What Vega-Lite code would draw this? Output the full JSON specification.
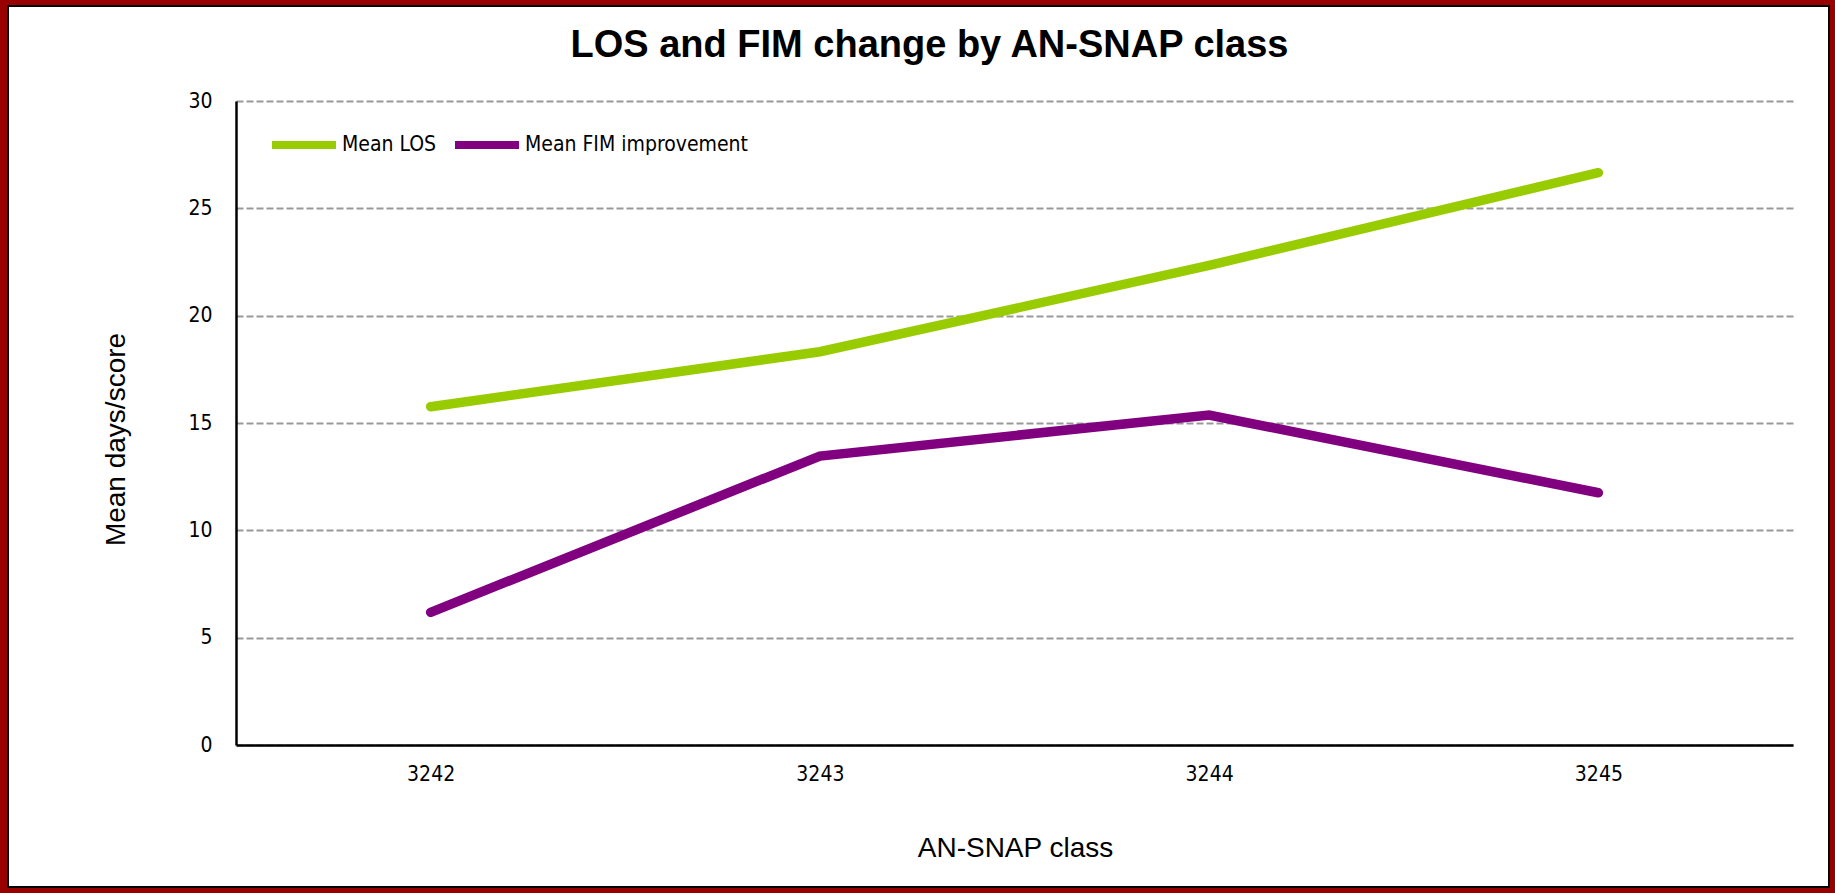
{
  "$schema": "https://vega.github.io/schema/vega-lite/v6.json",
  "autosize": {"type": "none"},
  "width": 1821,
  "height": 881,
  "padding": {"left": 8, "top": 6, "right": 6, "bottom": 6},
  "background": "#990000",
  "config": {
    "view": {"fill": "white", "stroke": "black", "strokeWidth": 2},
    "font": "DejaVu Sans Condensed, Liberation Sans"
  },
  "title": {
    "text": "LOS and FIM change by AN-SNAP class",
    "font": "Liberation Sans",
    "fontSize": 38,
    "fontWeight": "bold",
    "color": "black",
    "anchor": "middle",
    "frame": "group",
    "baseline": "alphabetic",
    "offset": -89,
    "dx": 11
  },
  "data": {
    "values": [
      {"class": "3242", "series": "Mean LOS", "value": 15.76},
      {"class": "3243", "series": "Mean LOS", "value": 18.32},
      {"class": "3244", "series": "Mean LOS", "value": 22.34},
      {"class": "3245", "series": "Mean LOS", "value": 26.66},
      {"class": "3242", "series": "Mean FIM improvement", "value": 6.18},
      {"class": "3243", "series": "Mean FIM improvement", "value": 13.46},
      {"class": "3244", "series": "Mean FIM improvement", "value": 15.37},
      {"class": "3245", "series": "Mean FIM improvement", "value": 11.75}
    ]
  },
  "mark": {"type": "line", "strokeWidth": 9.5, "strokeCap": "round", "strokeJoin": "miter"},
  "encoding": {
    "x": {
      "field": "class",
      "type": "ordinal",
      "scale": {"type": "point", "padding": 0.5, "range": [228, 1785]},
      "axis": {
        "title": "AN-SNAP class",
        "offset": -142,
        "labelAngle": 0,
        "labelFontSize": 21,
        "labelColor": "black",
        "labelPadding": 18,
        "ticks": false,
        "tickSize": 0,
        "domainColor": "black",
        "domainWidth": 2.5,
        "grid": false,
        "titleFont": "Liberation Sans",
        "titleFontSize": 28,
        "titleFontWeight": "normal",
        "titleColor": "black",
        "titleX": 1007,
        "titleY": 103,
        "titleAlign": "center",
        "titleBaseline": "middle"
      }
    },
    "y": {
      "field": "value",
      "type": "quantitative",
      "scale": {"domain": [0, 30], "range": [739, 95], "nice": false, "zero": true},
      "axis": {
        "title": "Mean days/score",
        "offset": -228,
        "values": [0, 5, 10, 15, 20, 25, 30],
        "labelFontSize": 21,
        "labelColor": "black",
        "labelPadding": 24,
        "ticks": false,
        "tickSize": 0,
        "domainColor": "black",
        "domainWidth": 2.5,
        "grid": true,
        "gridColor": "#999999",
        "gridWidth": 2,
        "gridDash": [7, 3],
        "titleFont": "Liberation Sans",
        "titleFontSize": 28,
        "titleFontWeight": "normal",
        "titleColor": "black",
        "titleAngle": -90,
        "titleX": -120,
        "titleY": 433,
        "titleAlign": "center",
        "titleBaseline": "middle"
      }
    },
    "color": {
      "field": "series",
      "type": "nominal",
      "scale": {"domain": ["Mean LOS", "Mean FIM improvement"], "range": ["#99CC00", "#800080"]},
      "legend": {
        "title": null,
        "orient": "none",
        "legendX": 260,
        "legendY": 103,
        "direction": "horizontal",
        "symbolType": "stroke",
        "symbolSize": 4096,
        "symbolStrokeWidth": 8,
        "labelFontSize": 21,
        "labelLimit": 500,
        "labelColor": "black",
        "labelOffset": 2,
        "columnPadding": 2,
        "padding": 0
      }
    }
  }
}
